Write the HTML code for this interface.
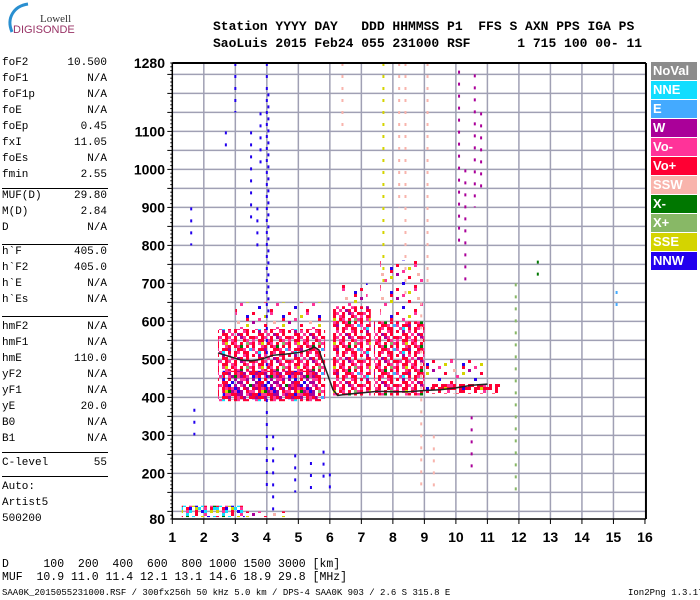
<!DOCTYPE html>
<html><head><meta charset="utf-8">
<style>
body{margin:0;background:#fff;width:700px;height:600px;overflow:hidden;position:relative;font-family:"Liberation Mono",monospace}
.t{position:absolute;white-space:pre;font-size:11px;color:#000}
.hd{position:absolute;white-space:pre;font-size:13px;font-weight:bold;left:213px;letter-spacing:0}
.sep{position:absolute;left:2px;width:106px;height:1px;background:#000}
.lg{position:absolute;left:651px;width:46px;height:18px;color:#fff;font:bold 13px "Liberation Sans",sans-serif;line-height:18px;padding-left:2px;box-sizing:border-box}
</style></head><body>
<svg style="position:absolute;left:0;top:0" width="80" height="45">
<path d="M12 32 C6 18 14 6 28 4" stroke="#2a8fd0" stroke-width="3" fill="none"/>
<text x="40" y="22" font-family="Liberation Serif,serif" font-size="11" fill="#333">Lowell</text>
<text x="13" y="33" font-family="Liberation Sans,sans-serif" font-size="11" fill="#993366">DIGISONDE</text>
</svg>
<div class="hd" style="top:19px">Station YYYY DAY   DDD HHMMSS P1  FFS S AXN PPS IGA PS</div>
<div class="hd" style="top:36px">SaoLuis 2015 Feb24 055 231000 RSF      1 715 100 00- 11</div>
<div id="left"></div>
<div id="legend"></div>
<svg id="chart" style="position:absolute;left:0;top:0" width="700" height="600"></svg>
<div class="t" style="left:2px;top:558px;font-size:11.5px">D     100  200  400  600  800 1000 1500 3000 [km]</div>
<div class="t" style="left:2px;top:571px;font-size:11.5px">MUF  10.9 11.0 11.4 12.1 13.1 14.6 18.9 29.8 [MHz]</div>
<div class="t" style="left:2px;top:588px;font-size:9px">SAA0K_2015055231000.RSF / 300fx256h 50 kHz 5.0 km / DPS-4 SAA0K 903 / 2.6 S 315.8 E</div>
<div class="t" style="left:628px;top:588px;font-size:9px">Ion2Png 1.3.17</div>
<script>
const pNames=["foF2","foF1","foF1p","foE","foEp","fxI","foEs","fmin","MUF(D)","M(D)","D","h`F","h`F2","h`E","h`Es","hmF2","hmF1","hmE","yF2","yF1","yE","B0","B1","C-level"];
const pVals=["10.500","N/A","N/A","N/A","0.45","11.05","N/A","2.55","29.80","2.84","N/A","405.0","405.0","N/A","N/A","N/A","N/A","110.0","N/A","N/A","20.0","N/A","N/A","55"];
const pY=[57,73,89,105,121,137,153,169,190,206,222,246,262,278,294,321,337,353,369,385,401,417,433,457];
const sepY=[188,244,316,452,476];
const left=document.getElementById('left');
pNames.forEach((n,i)=>{
  const a=document.createElement('div');a.className='t';a.style.left='2px';a.style.top=pY[i]+'px';a.textContent=n;
  
  
  left.appendChild(a);
  const b=document.createElement('div');b.className='t';b.style.left='40px';b.style.width='67px';b.style.textAlign='right';b.style.top=pY[i]+'px';b.textContent=pVals[i];
  
  
  left.appendChild(b);
});
sepY.forEach(y=>{const s=document.createElement('div');s.className='sep';s.style.top=y+'px';
  
  
  left.appendChild(s);});
[["Auto:",481],["Artist5",497],["500200",513]].forEach(([t,y])=>{const a=document.createElement('div');a.className='t';a.style.left='2px';a.style.top=y+'px';a.textContent=t;
  
  
  left.appendChild(a);});
const lgNames=["NoVal","NNE","E","W","Vo-","Vo+","SSW","X-","X+","SSE","NNW"];
const lgCols=["#8c8c8c","#11ddff","#44aaff","#aa0099","#ff3399","#ff0033","#f8b4ac","#007700","#88b866","#d4d400","#2200ee"];
const lg=document.getElementById('legend');
lgNames.forEach((n,i)=>{const d=document.createElement('div');d.className='lg';d.style.top=(62+i*19)+'px';d.style.background=lgCols[i];d.textContent=n;
  
  
  lg.appendChild(d);});

const xTicks=[1,2,3,4,5,6,7,8,9,10,11,12,13,14,15,16];
const yTicks=[80,200,300,400,500,600,700,800,900,1000,1100,1280];
const clF0=[2.45,2.6,3.0,6.1,6.3,7.4,7.6,9.0,9.2,1.3,3.3];
const clF1=[5.85,5.6,5.8,7.3,7.2,9.0,9.0,10.9,11.4,3.3,4.6];
const clH0=[390,395,580,405,640,405,600,410,410,85,85];
const clH1=[580,470,650,640,700,600,760,500,440,115,100];
const clPat=["upper","lower","sparse","upper","sparse","upper","sparse","sparse","red","mix","sparse"];
const sFreq=[4.0,4.05,3.0,2.7,3.5,3.7,3.8,5.8,6.0,6.4,7.7,8.2,8.4,9.1,10.1,10.3,10.5,10.6,11.9,1.7,4.2,4.9,5.4,8.9,9.3,10.8,12.6,15.1,1.6];
const sH0=[150,600,1150,1050,850,780,1000,170,140,1100,700,900,650,700,800,700,200,900,150,300,100,150,150,150,150,950,720,640,800];
const sH1=[1280,1200,1280,1100,1100,900,1150,260,200,1280,1280,1280,1280,1280,1260,1000,350,1250,700,370,300,250,230,650,300,1150,760,680,900];
const sCol=["#2200ee","#2200ee","#2200ee","#2200ee","#2200ee","#2200ee","#2200ee","#2200ee","#2200ee","#f8b4ac","#d4d400","#f8b4ac","#f8b4ac","#f8b4ac","#aa0099","#aa0099","#aa0099","#aa0099","#88b866","#2200ee","#2200ee","#2200ee","#2200ee","#f8b4ac","#f8b4ac","#aa0099","#007700","#44aaff","#2200ee"];
const trF=[2.45,2.8,3.2,3.5,3.8,4.2,4.6,5.0,5.2,5.4,5.5,5.65,5.9,6.1,6.25,6.5,7.0,7.5,8.0,8.5,9.0,9.5,10.0,10.5,11.0];
const trH=[517,508,498,496,500,511,514,518,522,528,533,525,467,420,405,408,412,416,415,415,418,420,425,432,435];

const X=f=>172.3+(f-1)*31.51;
const Y=h=>519-(h-80)*0.38;
const svg=document.getElementById('chart');const NS='http://www.w3.org/2000/svg';
function mk(t,a,p){const e=document.createElementNS(NS,t);for(const k in a)e.setAttribute(k,a[k]);(p||svg).appendChild(e);return e;}
const defs=mk('defs',{});
const pal={r:"#ff0033",p:"#ff3399",w:"#aa0099",b:"#2200ee",c:"#11ddff",e:"#44aaff",y:"#d4d400",g:"#007700",l:"#88b866",s:"#f8b4ac"};
const patStr={
 upper:["rp.rp.r.wp.r","p.rr.pr..rp.","r.py.rp.r.lp","r..pr.rpg.r.","p.rrw..rrp.e",".pc.r.rp.rr.","r.w.p.r..pr.","..rr.p.wr.r."],
 lower:["w.rwb.w.pw.g","rw.pr.bw.rw.","p.r.gw.bw.r.",".rb.pr.ww.pw","rw.rw.rp.w.r","b.r.pwg.w.p.","w.b.r.w.p.w.",".w.r.b..w.r."],
 sparse:["r.....p.....","....y.....b.","..p.......r.","w......s....","....r.....y.","........p...","..b.........","......r....."],
 red:["rr.rrp.r.rr.","r.rr.rrr.r.r","..r..p...r..","r...r...r...",".....r......","............","............","............"],
 mix:["rc.pyb.cr.pg","c.rb.yc.p.rc","y.pc.r.bc.y.","..c..r..p...","r.g.c..y.b.c",".c..p..r..c.","............","............"]
};
for(const k in patStr){
 const pt=mk('pattern',{id:'pt-'+k,width:36,height:24,patternUnits:'userSpaceOnUse'},defs);
 patStr[k].forEach((row,j)=>{[...row].forEach((ch,i)=>{if(pal[ch])mk('rect',{x:i*3,y:j*3,width:3,height:3,fill:pal[ch]},pt);});});
}
const gridG=mk('g',{});
for(let h=100;h<=1250;h+=50){mk('line',{x1:X(1),x2:X(16),y1:Y(h),y2:Y(h),stroke:'#a0a0b4','stroke-width':1.5},gridG);}
xTicks.forEach(f=>{if(f>1&&f<16)mk('line',{x1:X(f),x2:X(f),y1:Y(1280),y2:Y(80),stroke:'#a0a0b4','stroke-width':1.5},gridG);});
clF0.forEach((f,i)=>{const r=mk('rect',{x:X(f),y:Y(clH1[i]),width:X(clF1[i])-X(f),height:Y(clH0[i])-Y(clH1[i]),fill:'url(#pt-'+clPat[i]+')'});
 
 });
sFreq.forEach((f,i)=>{const r=mk('line',{x1:X(f),x2:X(f),y1:Y(sH1[i]),y2:Y(sH0[i]),stroke:sCol[i],'stroke-width':2,'stroke-dasharray':'3 9'});
 
 });
const tr=mk('polyline',{points:trF.map((f,i)=>X(f)+','+Y(trH[i])).join(' '),fill:'none',stroke:'#222','stroke-width':1.5});


mk('line',{x1:X(1),x2:X(1),y1:Y(1280),y2:Y(80)+0.5,stroke:'#000','stroke-width':1.5});
mk('line',{x1:X(1),x2:X(16)+1,y1:Y(80),y2:Y(80),stroke:'#000','stroke-width':1.5});
mk('line',{x1:X(1),x2:X(16)+1,y1:Y(1280),y2:Y(1280),stroke:'#000','stroke-width':2});
mk('line',{x1:X(16)+1,x2:X(16)+1,y1:Y(1280),y2:Y(80),stroke:'#000','stroke-width':2});
for(let h=80;h<=1280;h+=10){mk('line',{x1:X(1)-(h%50==0?5:2),x2:X(1),y1:Y(h),y2:Y(h),stroke:'#000','stroke-width':1});}
yTicks.forEach(h=>{const t=mk('text',{x:165,y:Y(h)+5,'text-anchor':'end','font-family':'Liberation Sans,sans-serif','font-weight':'bold','font-size':14});t.textContent=h;
 
 });
xTicks.forEach(f=>{mk('line',{x1:X(f),x2:X(f),y1:Y(80),y2:Y(80)+5,stroke:'#000'});
 const t=mk('text',{x:X(f),y:542,'text-anchor':'middle','font-family':'Liberation Sans,sans-serif','font-weight':'bold','font-size':14});t.textContent=f;
 
 });
</script>
</body></html>
